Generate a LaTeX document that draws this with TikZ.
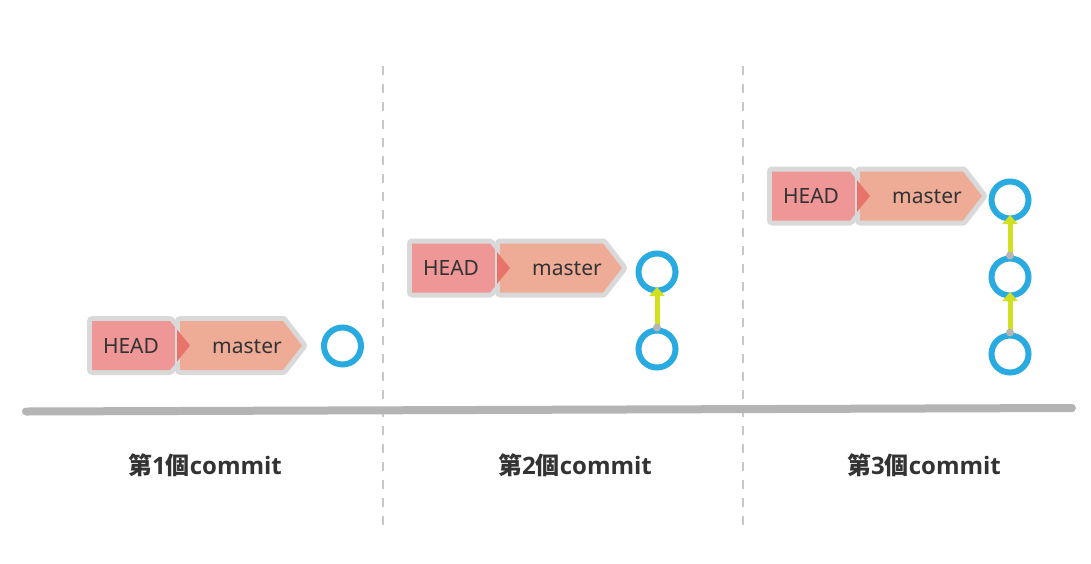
\documentclass[tikz,border=0pt]{standalone}
\usepackage{fontspec}
\setmainfont{Noto Sans}
\newfontfamily\cjkfont{Noto Sans CJK TC}
\newfontfamily\capfont{Open Sans}
\usetikzlibrary{arrows.meta}
\definecolor{bordergray}{HTML}{D9D9D9}
\definecolor{headred}{HTML}{EF9796}
\definecolor{mastersalmon}{HTML}{EEAB96}
\definecolor{tipred}{HTML}{E8736B}
\definecolor{commitblue}{HTML}{29ABE2}
\definecolor{linkgreen}{HTML}{D2E021}
\definecolor{dotgray}{HTML}{B5B5B5}
\definecolor{basegray}{HTML}{B4B4B4}
\definecolor{dashgray}{HTML}{C8C8C8}
\definecolor{textdark}{HTML}{333333}
\tikzset{
  tagborder/.style={draw=bordergray, fill=bordergray, line width=10pt, line join=round},
  tagtext/.style={text=textdark, font=\fontsize{21}{25}\selectfont, inner sep=0pt, text height=15.3pt, text depth=0pt},
  commit/.style={circle, draw=commitblue, line width=6pt, minimum size=37pt, inner sep=0pt},
  link/.style={draw=linkgreen, line width=5pt, -{Triangle[length=9pt,width=15pt]}, shorten >=-6.5pt},
  linkdot/.style={fill=dotgray},
  caption/.style={text=textdark, font=\fontsize{24}{28}\selectfont\capfont\bfseries, inner sep=0pt},
  divider/.style={draw=dashgray, line width=2pt, dash pattern=on 9pt off 9pt},
  baseline/.style={draw=basegray, line width=8pt, line cap=round}
}
\newcommand\headpath[2]{(#1+5,#2-24.5) -- (#1+83,#2-24.5) -- (#1+103,#2) -- (#1+83,#2+24.5) -- (#1+5,#2+24.5) -- cycle}
\newcommand\masterpath[2]{(#1+93,#2-24.5) -- (#1+196,#2-24.5) -- (#1+215,#2) -- (#1+196,#2+24.5) -- (#1+93,#2+24.5) -- cycle}
\newcommand\tagpair[3]{%
  \path[tagborder] \headpath{#1}{#2};
  \fill[headred] \headpath{#1}{#2};
  \path[tagborder] \masterpath{#1}{#2};
  \fill[mastersalmon] \masterpath{#1}{#2};
  \begin{scope}
    \clip (#1+90,#2-30) rectangle (#1+120,#2+30);
    \fill[tipred] \headpath{#1}{#2};
  \end{scope}
  \node[tagtext] (head#3) at (#1+44,#2) {HEAD};
  \node[tagtext] (master#3) at (#1+160,#2) {master};
}
\begin{document}
\begin{tikzpicture}[x=1pt,y=-1pt]
\useasboundingbox[fill=white] (0,0) rectangle (1091,563);
% dividers
\coordinate (d1t) at (383,66);
\coordinate (d1b) at (383,527);
\coordinate (d2t) at (743,66);
\coordinate (d2b) at (743,527);
\draw[divider] (d1t) -- (d1b);
\draw[divider] (d2t) -- (d2b);
% base line
\coordinate (bl) at (26,411.5);
\coordinate (br) at (1072,408);
\draw[baseline] (bl) -- (br);
% tags
\tagpair{87}{345.5}{1}
\tagpair{407}{268}{2}
\tagpair{767}{196}{3}
% commits
\node[commit] (c1) at (342.5,346) {};
\node[commit] (c2a) at (657,272) {};
\node[commit] (c2b) at (657,349) {};
\node[commit] (c3a) at (1010,200) {};
\node[commit] (c3b) at (1010,277) {};
\node[commit] (c3c) at (1010,354) {};
% links
\draw[link] (c2b.north) -- (c2a.south);
\fill[linkdot] (c2b.north) circle (4pt);
\draw[link] (c3b.north) -- (c3a.south);
\fill[linkdot] (c3b.north) circle (4pt);
\draw[link] (c3c.north) -- (c3b.south);
\fill[linkdot] (c3c.north) circle (4pt);
% captions
\node[caption] (cap1) at (205,465) {{\cjkfont\bfseries 第}1{\cjkfont\bfseries 個}commit};
\node[caption] (cap2) at (575,465) {{\cjkfont\bfseries 第}2{\cjkfont\bfseries 個}commit};
\node[caption] (cap3) at (924,465) {{\cjkfont\bfseries 第}3{\cjkfont\bfseries 個}commit};
\end{tikzpicture}
\end{document}
